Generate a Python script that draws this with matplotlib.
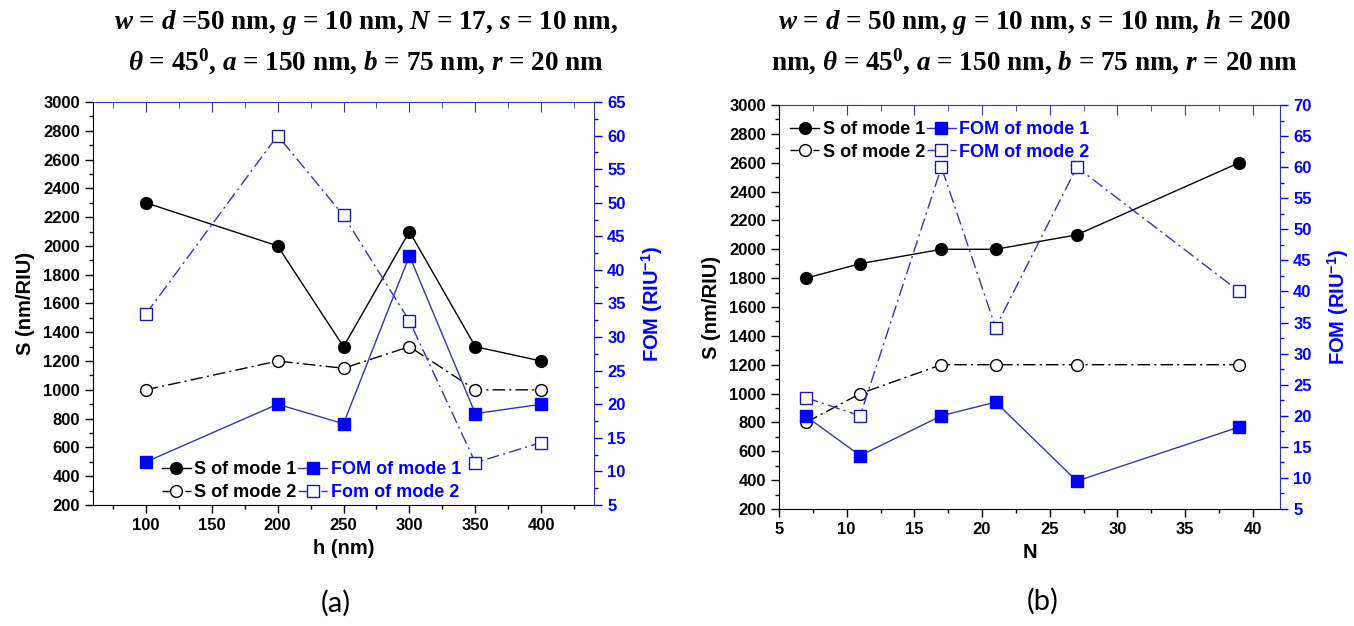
import matplotlib
matplotlib.use("Agg")
import matplotlib.pyplot as plt
from matplotlib.ticker import MultipleLocator

plt.rcParams["font.family"] = ["Liberation Sans", "DejaVu Sans"]
plt.rcParams["font.weight"] = "bold"
plt.rcParams["mathtext.fontset"] = "custom"
plt.rcParams["mathtext.rm"] = "Liberation Serif:bold"
plt.rcParams["mathtext.it"] = "Liberation Serif:italic:bold"
plt.rcParams["mathtext.bf"] = "Liberation Serif:bold"
plt.rcParams["mathtext.sf"] = "Liberation Sans:bold"

# panel (a): sweep of h
h_nm = [100, 200, 250, 300, 350, 400]
s_mode1_a = [2300, 2000, 1300, 2100, 1300, 1200]
s_mode2_a = [1000, 1200, 1150, 1300, 1000, 1000]
fom_mode1_a = [11.4, 20.0, 17.1, 42.1, 18.6, 20.0]
fom_mode2_a = [33.4, 60.0, 48.1, 32.4, 11.3, 14.3]

# panel (b): sweep of N
n_vals = [7, 11, 17, 21, 27, 39]
s_mode1_b = [1800, 1900, 2000, 2000, 2100, 2600]
s_mode2_b = [800, 1000, 1200, 1200, 1200, 1200]
fom_mode1_b = [19.9, 13.6, 20.0, 22.2, 9.5, 18.2]
fom_mode2_b = [22.9, 20.0, 60.0, 34.2, 60.0, 40.0]

titles = [
    "$w$ = $d$ =50 nm, $g$ = 10 nm, $N$ = 17, $s$ = 10 nm,\n"
    "$\\theta$ = 45$^0$, $a$ = 150 nm, $b$ = 75 nm, $r$ = 20 nm",
    "$w$ = $d$ = 50 nm, $g$ = 10 nm, $s$ = 10 nm, $h$ = 200\n"
    "nm, $\\theta$ = 45$^0$, $a$ = 150 nm, $b$ = 75 nm, $r$ = 20 nm",
]

BLUE = "#0000ff"
NAVY = "#3535a8"
DASHDOT = (0, (9, 3, 1.5, 3))

fig = plt.figure(figsize=(13.54, 6.26), dpi=100)


def panel(rect, x, s1, s2, f1, f2, xlim, xmaj, xlabel, fom_max, leg_names, leg_kw):
    ax = fig.add_axes(rect)
    ax2 = ax.twinx()

    l1, = ax.plot(x, s1, "-o", color="black", lw=1, ms=8.5, mfc="black", mec="black")
    l2, = ax.plot(x, s2, marker="o", ls=DASHDOT, color="black", lw=1, ms=8.5, mfc="white", mec="black")
    l3, = ax2.plot(x, f1, "-s", color=NAVY, lw=1, ms=8, mfc=BLUE, mec=BLUE)
    l4, = ax2.plot(x, f2, marker="s", ls=DASHDOT, color=NAVY, lw=1, ms=8, mfc="white", mec="#1a1aa0")

    ax.set_xlim(*xlim)
    ax.set_ylim(200, 3000)
    ax2.set_ylim(5, fom_max)
    ax.xaxis.set_major_locator(MultipleLocator(xmaj))
    ax.xaxis.set_minor_locator(MultipleLocator(xmaj / 2))
    ax.yaxis.set_major_locator(MultipleLocator(200))
    ax.yaxis.set_minor_locator(MultipleLocator(100))
    ax2.yaxis.set_major_locator(MultipleLocator(5))
    ax2.yaxis.set_minor_locator(MultipleLocator(2.5))

    ax.tick_params(axis="both", which="both", direction="out", top=False, right=False, labelsize=12)
    ax.tick_params(which="major", length=6, width=1)
    ax.tick_params(which="minor", length=3, width=1)
    ax2.tick_params(axis="y", which="both", direction="out", colors=BLUE, labelsize=12)
    ax2.tick_params(which="major", length=6, width=1)
    ax2.tick_params(which="minor", length=3, width=1)

    # top axis: inward ticks in blue, no labels
    top = ax.secondary_xaxis("top")
    top.xaxis.set_major_locator(MultipleLocator(xmaj))
    top.xaxis.set_minor_locator(MultipleLocator(xmaj / 2))
    top.tick_params(which="both", direction="in", colors=NAVY, labeltop=False)
    top.tick_params(which="major", length=7)
    top.tick_params(which="minor", length=4)
    top.spines["top"].set_color(NAVY)

    for side in ("right", "top"):
        ax.spines[side].set_visible(False)
    for side in ("left", "bottom", "top"):
        ax2.spines[side].set_visible(False)
    ax2.spines["right"].set_color(NAVY)

    for lab in ax.get_xticklabels() + ax.get_yticklabels() + ax2.get_yticklabels():
        lab.set_fontweight("bold")

    ax.set_xlabel(xlabel, fontsize=14.5, fontweight="bold", labelpad=4)
    ax.set_ylabel("S (nm/RIU)", fontsize=14.5, fontweight="bold", labelpad=6)
    ax2.set_ylabel("FOM (RIU$^{\\mathsf{-1}}$)", fontsize=14.5, fontweight="bold",
                   color=BLUE, labelpad=10)

    leg = ax2.legend([l1, l2, l3, l4], leg_names, ncol=2, frameon=False,
                     prop={"size": 13, "weight": "bold"}, handlelength=1.6,
                     handletextpad=0.2, columnspacing=0.1, labelspacing=0.3,
                     **leg_kw)
    for txt, c in zip(leg.get_texts(), ["black", "black", BLUE, BLUE]):
        txt.set_color(c)
    return ax


panel([0.0687, 0.1933, 0.370, 0.6438], h_nm, s_mode1_a, s_mode2_a, fom_mode1_a, fom_mode2_a,
      (60, 440), 50, "h (nm)", 65,
      ["S of mode 1", "S of mode 2", "FOM of mode 1", "Fom of mode 2"],
      {"loc": "lower left", "bbox_to_anchor": (0.105, -0.03)})

panel([0.5753, 0.1869, 0.370, 0.6454], n_vals, s_mode1_b, s_mode2_b, fom_mode1_b, fom_mode2_b,
      (5, 42), 5, "N", 70,
      ["S of mode 1", "S of mode 2", "FOM of mode 1", "FOM of mode 2"],
      {"loc": "upper left", "bbox_to_anchor": (-0.01, 1.0)})

for xc, t in zip([0.27, 0.764], titles):
    fig.text(xc, 0.932, t, ha="center", va="center", fontsize=19.5,
             family="Liberation Serif", fontweight="bold", linespacing=1.4)

fig.text(0.248, 0.037, "(a)", ha="center", va="center", fontsize=21, family="Lato",
         fontweight="normal")
fig.text(0.77, 0.04, "(b)", ha="center", va="center", fontsize=21, family="Lato",
         fontweight="normal")

fig.savefig("out.png", dpi=100)
